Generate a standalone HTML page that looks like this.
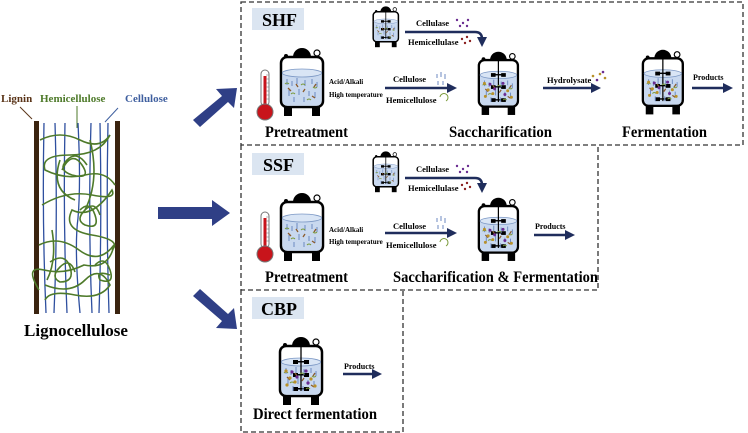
<!DOCTYPE html>
<html><head><meta charset="utf-8"><style>
html,body{margin:0;padding:0;background:#fff;width:748px;height:433px;overflow:hidden}
svg{display:block}
text{font-family:"Liberation Serif",serif;font-weight:bold}
</style></head><body>
<svg width="748" height="433" viewBox="0 0 748 433" xmlns="http://www.w3.org/2000/svg">
<defs>
<g id="rb">
 <path d="M14,13 A9,9 0 0 1 32,13 Z" fill="#000"/>
 <circle cx="7" cy="12" r="2" fill="#000"/>
 <circle cx="38" cy="9" r="3" fill="#fff" stroke="#000" stroke-width="1.2"/>
 <rect x="2" y="13" width="42" height="50" rx="6" fill="#fff" stroke="#000" stroke-width="2.5"/>
 <path d="M3.3,29 L3.3,56 Q3.3,61.7 9,61.7 L37,61.7 Q42.7,61.7 42.7,56 L42.7,29 Z" fill="#c8d8ef"/>
 <ellipse cx="23" cy="29" rx="19.7" ry="4" fill="#d9e5f5" stroke="#7b97c4" stroke-width="0.8"/>
 <rect x="5" y="62" width="8" height="10" fill="#000"/>
 <rect x="33" y="62" width="8" height="10" fill="#000"/>
</g>
<g id="fib">
 <g stroke="#6c8ac0" stroke-width="1"><path d="M8,35v6M13,37v5M18,34v6M26,36v6M33,35v5M38,38v5M10,46v6M20,45v6M30,47v5M36,48v6M15,53v5M25,53v5"/></g>
 <g stroke="#7a9a3a" stroke-width="1" fill="none"><path d="M6,40q2,-2 4,0M22,41q2,-2 4,0M34,43q2,2 4,0M12,50q2,-2 4,0M28,56q2,-2 4,0"/></g>
 <g stroke="#8b5a2b" stroke-width="1.3"><path d="M9,44l3,3M24,48l2,-3M33,52l3,2M17,40l2,3M37,40l-2,3"/></g>
</g>
<g id="ag">
 <line x1="23" y1="5" x2="23" y2="58" stroke="#000" stroke-width="1.3"/>
 <rect x="15" y="27" width="5" height="4" fill="#000"/><rect x="26" y="27" width="5" height="4" fill="#000"/>
 <rect x="15" y="40" width="5" height="4" fill="#000"/><rect x="26" y="40" width="5" height="4" fill="#000"/>
 <rect x="15" y="54" width="5" height="4" fill="#000"/><rect x="26" y="54" width="5" height="4" fill="#000"/>
 <rect x="19" y="28" width="8" height="1.5" fill="#000"/><rect x="19" y="41" width="8" height="1.5" fill="#000"/><rect x="19" y="55" width="8" height="1.5" fill="#000"/>
</g>
<g id="dots">
 <g fill="#b8912a"><circle cx="8" cy="38" r="1.6"/><circle cx="12" cy="45" r="1.6"/><circle cx="9" cy="52" r="1.6"/><circle cx="33" cy="46" r="1.6"/><circle cx="37" cy="53" r="1.6"/><circle cx="17" cy="49" r="1.6"/></g>
 <g fill="#6a2c91"><circle cx="28" cy="38" r="1.6"/><circle cx="19" cy="44" r="1.6"/><circle cx="30" cy="50" r="1.6"/><circle cx="14" cy="39" r="1.6"/></g>
</g>
<g id="therm">
 <rect x="5" y="0" width="8" height="36" rx="4" fill="#fff" stroke="#777" stroke-width="1"/>
 <rect x="7.5" y="6" width="3" height="32" fill="#c8141b"/>
 <circle cx="9" cy="42" r="8" fill="#c8141b" stroke="#777" stroke-width="1"/>
 <g stroke="#777" stroke-width="0.6"><path d="M10,5h3M10,9h3M10,13h3M10,17h3M10,21h3M10,25h3M10,29h3"/></g>
</g>
<marker id="ah" markerWidth="4" markerHeight="4" refX="2" refY="2" orient="auto" markerUnits="strokeWidth"><path d="M0,0 L4,2 L0,4 Z" fill="#1f2d5c"/></marker>
</defs>

<g fill="none" stroke="#333" stroke-width="1.3" stroke-dasharray="5,3">
 <path d="M241,2 H743 V145 H241 Z"/>
 <path d="M241,145 V290 H598 V145"/>
 <path d="M241,290 V432 H403 V290"/>
</g>

<rect x="252" y="8" width="52" height="22" fill="#dbe5f1"/>
<text x="262" y="26" font-size="18">SHF</text>
<rect x="252" y="153" width="52" height="22" fill="#dbe5f1"/>
<text x="263" y="171" font-size="18">SSF</text>
<rect x="252" y="297" width="52" height="22" fill="#dbe5f1"/>
<text x="261" y="315" font-size="18">CBP</text>

<text x="1" y="102" font-size="11" fill="#5a3418">Lignin</text>
<text x="40" y="102" font-size="11" fill="#4e7a2a">Hemicellulose</text>
<text x="125" y="102" font-size="11" fill="#3f5f9f">Cellulose</text>
<line x1="32" y1="119" x2="20" y2="107" stroke="#5a3418" stroke-width="1"/>
<line x1="77" y1="128" x2="77" y2="106" stroke="#4e7a2a" stroke-width="1"/>
<line x1="105" y1="122" x2="118" y2="108" stroke="#3f5f9f" stroke-width="1"/>
<rect x="34" y="121" width="5" height="193" fill="#3b2410"/>
<rect x="115" y="121" width="5" height="193" fill="#3b2410"/>
<g stroke="#2e4f9f" stroke-width="1.3" fill="none">
 <path d="M44,123 q-2,100 2,190"/><path d="M55,123 q3,100 -1,190"/><path d="M65,123 q-2,100 2,190"/>
 <path d="M78,123 q3,60 0,95 q-4,30 2,95"/><path d="M91,123 q-3,100 1,190"/><path d="M100,123 q2,100 -1,190"/><path d="M108,123 q-2,100 1,190"/>
</g>
<g stroke="#4e7a2a" stroke-width="1.6" fill="none">
 <path d="M40,140 q20,-10 40,0 t30,-5 q-10,20 -40,20 t-25,15 q20,10 40,5 t30,10"/>
 <path d="M62,170 q10,-20 20,-5 t-10,10 q-15,-5 -5,-15 t20,5"/>
 <path d="M42,205 q25,-15 50,-10 t20,-5 q-20,30 -40,20 q-10,20 20,25 t20,15"/>
 <path d="M80,210 q10,-10 15,5 t-10,10 q-10,-5 0,-15 t15,5"/>
 <path d="M39,245 q20,-10 40,5 t35,-5 q-5,25 -30,20 q-20,10 -40,5 t-5,20"/>
 <path d="M50,262 q15,-10 20,5 t-10,15 q-10,-5 0,-15 t15,5"/>
 <path d="M95,265 q10,-10 15,5 t-10,10 q-5,-10 10,-5"/>
 <path d="M45,285 q25,10 40,-5 t25,5 q-10,15 -35,10 t-30,5"/>
 <path d="M60,160 q-10,30 15,40 M90,140 q10,40 -5,70 M52,230 q5,30 -5,50"/>
</g>
<text x="24" y="336" font-size="17" textLength="104" lengthAdjust="spacingAndGlyphs">Lignocellulose</text>

<g fill="#2f3f86">
 <path d="M193,120 L222,96 L216,89 L237,88 L234,108 L228,102 L200,127 Z"/>
 <path d="M158,207 H212 V200 L230,213 L212,226 V219 H158 Z"/>
 <path d="M200,289 L228,314 L234,308 L237,329 L216,328 L222,321 L193,296 Z"/>
</g>

<use href="#therm" x="256" y="70"/>
<g transform="translate(279,44)"><use href="#rb"/><use href="#fib"/></g>
<text x="329" y="84" font-size="7">Acid/Alkali</text>
<text x="329" y="97" font-size="7">High temperature</text>
<text x="393" y="82" font-size="8.5">Cellulose</text>
<text x="386" y="103" font-size="8.5">Hemicellulose</text>
<g stroke="#6c8ac0" stroke-width="1"><path d="M437,74v4M441,72v5M445,74v5M438,81v4M443,81v4"/></g>
<path d="M440,97 a4,4 0 1 1 6,4" stroke="#7a9a3a" fill="none" stroke-width="1"/>
<line x1="385" y1="88" x2="452" y2="88" stroke="#1f2d5c" stroke-width="2.5" marker-end="url(#ah)"/>
<g transform="translate(372,4) scale(0.6)"><use href="#rb"/><use href="#ag"/><use href="#fib"/></g>
<text x="416" y="26" font-size="8.5">Cellulase</text>
<text x="408" y="45" font-size="8.5">Hemicellulase</text>
<g fill="#6a2c91"><circle cx="457" cy="20" r="1.2"/><circle cx="463" cy="23" r="1.2"/><circle cx="468" cy="20" r="1.2"/><circle cx="460" cy="26" r="1.2"/><circle cx="467" cy="26" r="1.2"/></g>
<g fill="#8b2020"><circle cx="462" cy="39" r="1.2"/><circle cx="467" cy="37" r="1.2"/><circle cx="465" cy="43" r="1.2"/><circle cx="470" cy="41" r="1.2"/></g>
<path d="M405,32 H475 Q482,32 482,39 V42" stroke="#1f2d5c" stroke-width="2.5" fill="none" marker-end="url(#ah)"/>
<g transform="translate(477,48) scale(0.93)"><use href="#rb"/><use href="#ag"/><use href="#fib"/><use href="#dots"/></g>
<text x="547" y="83" font-size="8.5">Hydrolysate</text>
<g fill="#b8912a"><circle cx="593" cy="76" r="1.3"/><circle cx="600" cy="74" r="1.3"/><circle cx="605" cy="78" r="1.3"/></g>
<g fill="#6a2c91"><circle cx="597" cy="80" r="1.3"/><circle cx="603" cy="72" r="1.3"/></g>
<line x1="543" y1="88" x2="596" y2="88" stroke="#1f2d5c" stroke-width="2.5" marker-end="url(#ah)"/>
<g transform="translate(641,46) scale(0.95)"><use href="#rb"/><use href="#ag"/><use href="#fib"/><use href="#dots"/></g>
<text x="693" y="80" font-size="8">Products</text>
<line x1="692" y1="88" x2="728" y2="88" stroke="#1f2d5c" stroke-width="2.5" marker-end="url(#ah)"/>
<text x="265" y="137" font-size="16" textLength="83" lengthAdjust="spacingAndGlyphs">Pretreatment</text>
<text x="449" y="137" font-size="16" textLength="103" lengthAdjust="spacingAndGlyphs">Saccharification</text>
<text x="622" y="137" font-size="16" textLength="85" lengthAdjust="spacingAndGlyphs">Fermentation</text>

<use href="#therm" x="256" y="212"/>
<g transform="translate(279,189)"><use href="#rb"/><use href="#fib"/></g>
<text x="329" y="232" font-size="7">Acid/Alkali</text>
<text x="329" y="244" font-size="7">High temperature</text>
<text x="393" y="229" font-size="8.5">Cellulose</text>
<text x="386" y="248" font-size="8.5">Hemicellulose</text>
<g stroke="#6c8ac0" stroke-width="1"><path d="M437,218v4M441,216v5M445,218v5M438,225v4M443,225v4"/></g>
<path d="M440,242 a4,4 0 1 1 6,4" stroke="#7a9a3a" fill="none" stroke-width="1"/>
<line x1="385" y1="233" x2="452" y2="233" stroke="#1f2d5c" stroke-width="2.5" marker-end="url(#ah)"/>
<g transform="translate(372,149) scale(0.6)"><use href="#rb"/><use href="#ag"/><use href="#fib"/></g>
<text x="416" y="172" font-size="8.5">Cellulase</text>
<text x="408" y="191" font-size="8.5">Hemicellulase</text>
<g fill="#6a2c91"><circle cx="457" cy="166" r="1.2"/><circle cx="463" cy="169" r="1.2"/><circle cx="468" cy="166" r="1.2"/><circle cx="460" cy="172" r="1.2"/><circle cx="467" cy="172" r="1.2"/></g>
<g fill="#8b2020"><circle cx="462" cy="185" r="1.2"/><circle cx="467" cy="183" r="1.2"/><circle cx="465" cy="189" r="1.2"/><circle cx="470" cy="187" r="1.2"/></g>
<path d="M405,178 H475 Q482,178 482,185 V188" stroke="#1f2d5c" stroke-width="2.5" fill="none" marker-end="url(#ah)"/>
<g transform="translate(477,194) scale(0.93)"><use href="#rb"/><use href="#ag"/><use href="#fib"/><use href="#dots"/></g>
<text x="535" y="229" font-size="8">Products</text>
<line x1="534" y1="235" x2="570" y2="235" stroke="#1f2d5c" stroke-width="2.5" marker-end="url(#ah)"/>
<text x="265" y="282" font-size="16" textLength="83" lengthAdjust="spacingAndGlyphs">Pretreatment</text>
<text x="393" y="282" font-size="16" textLength="205" lengthAdjust="spacingAndGlyphs">Saccharification &amp; Fermentation</text>

<g transform="translate(278,333)"><use href="#rb"/><use href="#ag"/><use href="#fib"/><use href="#dots"/></g>
<text x="344" y="369" font-size="8">Products</text>
<line x1="343" y1="374" x2="377" y2="374" stroke="#1f2d5c" stroke-width="2.5" marker-end="url(#ah)"/>
<text x="253" y="419" font-size="16" textLength="124" lengthAdjust="spacingAndGlyphs">Direct fermentation</text>
</svg>
</body></html>
